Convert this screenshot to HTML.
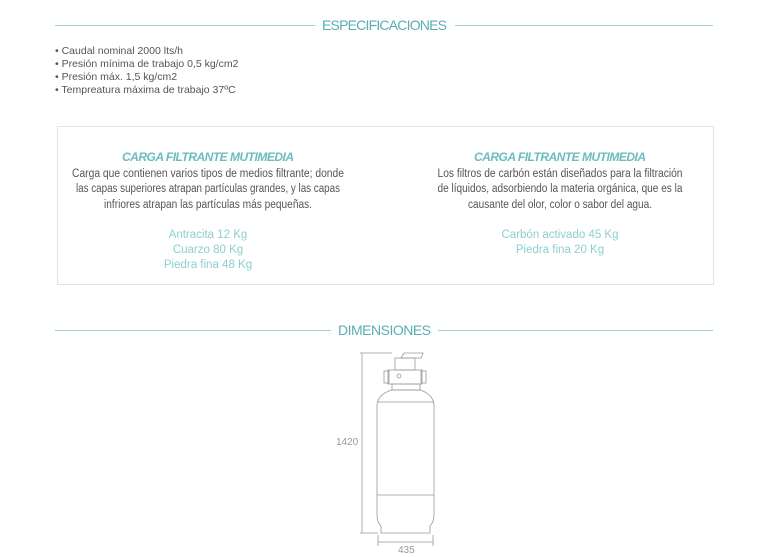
<!DOCTYPE html>
<html><head><meta charset="utf-8"><style>
html,body{margin:0;padding:0;background:#fff;width:768px;height:557px;overflow:hidden}
text{font-family:"Liberation Sans",sans-serif}
</style></head><body>
<svg width="768" height="557" viewBox="0 0 768 557" xmlns="http://www.w3.org/2000/svg">
<g stroke="#9fd3d3" stroke-width="1">
<line x1="55" y1="25.5" x2="315" y2="25.5"/><line x1="455" y1="25.5" x2="713" y2="25.5"/>
<line x1="55" y1="330.5" x2="331" y2="330.5"/><line x1="438" y1="330.5" x2="713" y2="330.5"/>
</g>
<text x="322" y="30" font-size="14" fill="#5aaeb0" textLength="125">ESPECIFICACIONES</text>
<text x="338" y="335" font-size="14" fill="#5aaeb0" textLength="93">DIMENSIONES</text>
<g font-size="10.5" fill="#555">
<text x="55" y="54">• Caudal nominal 2000 lts/h</text>
<text x="55" y="67">• Presión mínima de trabajo 0,5 kg/cm2</text>
<text x="55" y="80">• Presión máx. 1,5 kg/cm2</text>
<text x="55" y="93">• Tempreatura máxima de trabajo 37ºC</text>
</g>
<rect x="57.5" y="126.5" width="656" height="158" fill="none" stroke="#e3e3e3"/>
<g text-anchor="middle">
<text x="208" y="161" font-size="12" font-weight="bold" font-style="italic" fill="#6cbcbd" textLength="172">CARGA FILTRANTE MUTIMEDIA</text>
<text x="560" y="161" font-size="12" font-weight="bold" font-style="italic" fill="#6cbcbd" textLength="172">CARGA FILTRANTE MUTIMEDIA</text>
<g font-size="11.5" fill="#555">
<text x="208" y="177" textLength="272" lengthAdjust="spacingAndGlyphs">Carga que contienen varios tipos de medios filtrante; donde</text>
<text x="208" y="192" textLength="264" lengthAdjust="spacingAndGlyphs">las capas superiores atrapan partículas grandes, y las capas</text>
<text x="208" y="208" textLength="208" lengthAdjust="spacingAndGlyphs">infriores atrapan las partículas más pequeñas.</text>
<text x="560" y="177" textLength="245" lengthAdjust="spacingAndGlyphs">Los filtros de carbón están diseñados para la filtración</text>
<text x="560" y="192" textLength="245" lengthAdjust="spacingAndGlyphs">de líquidos, adsorbiendo la materia orgánica, que es la</text>
<text x="560" y="208" textLength="184" lengthAdjust="spacingAndGlyphs">causante del olor, color o sabor del agua.</text>
</g>
<g font-size="11.5" fill="#8ccfcf">
<text x="208" y="238">Antracita 12 Kg</text>
<text x="208" y="253">Cuarzo 80 Kg</text>
<text x="208" y="268">Piedra fina 48 Kg</text>
<text x="560" y="238">Carbón activado 45 Kg</text>
<text x="560" y="253">Piedra fina 20 Kg</text>
</g>
</g>
<g stroke="#999" stroke-width="0.8" fill="none">
<line x1="360" y1="353" x2="392" y2="353"/>
<line x1="362" y1="353" x2="362" y2="533"/>
<line x1="360" y1="533" x2="378" y2="533"/>
<line x1="378" y1="535" x2="378" y2="546"/><line x1="433" y1="535" x2="433" y2="546"/>
<line x1="378" y1="542" x2="433" y2="542"/>
<path d="M392 390 Q378 394 377 405 L377 515 Q377 522 381 526 L381 533 L430 533 L430 526 Q434 522 434 515 L434 405 Q433 394 420 390 Z"/>
<line x1="377" y1="402" x2="434" y2="402"/>
<line x1="377" y1="495" x2="434" y2="495"/>
<rect x="392" y="384" width="28" height="6"/>
<rect x="388" y="370" width="34" height="14"/>
<rect x="384" y="371" width="5" height="12"/><rect x="421" y="371" width="5" height="12"/>
<rect x="395" y="358" width="20" height="12"/>
<path d="M401 358 L404 353 L423 353 L421 358 Z"/>
<circle cx="399" cy="376" r="2"/>
</g>
<text x="336" y="445" font-size="10" fill="#999">1420</text>
<text x="398" y="553" font-size="10" fill="#999">435</text>
</svg>
</body></html>
